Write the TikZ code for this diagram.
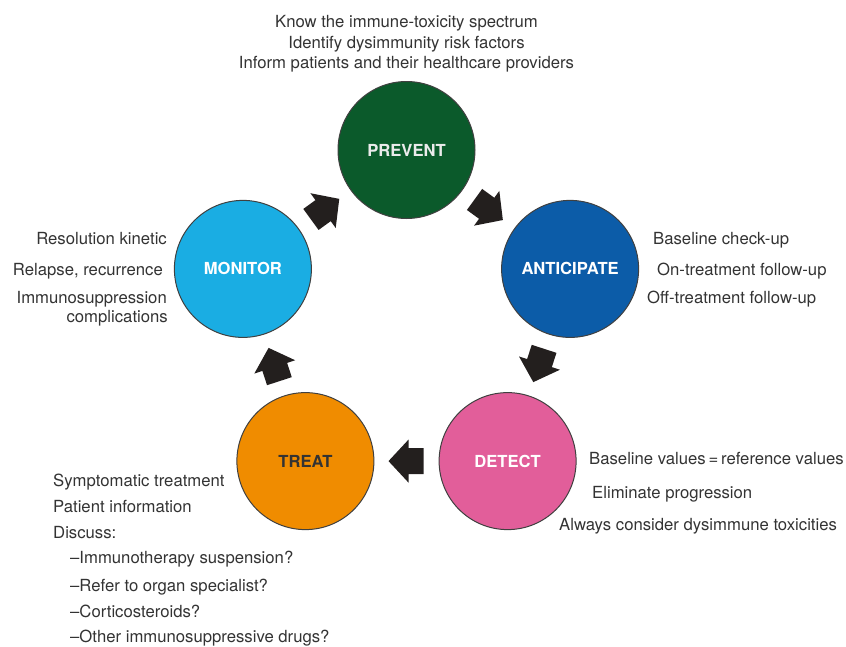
\documentclass[tikz,border=0pt]{standalone}
\usepackage{fontspec}
\setmainfont{TeX Gyre Heros}
\usetikzlibrary{calc}
\definecolor{txt}{HTML}{333333}
\definecolor{cgreen}{HTML}{0B5A2B}
\definecolor{cblue}{HTML}{0C5CA8}
\definecolor{ccyan}{HTML}{1AADE3}
\definecolor{corange}{HTML}{F08C00}
\definecolor{cpink}{HTML}{E25E9A}
\definecolor{arr}{HTML}{231F1E}
\tikzset{
  phase/.style={circle, minimum size=137pt, inner sep=0pt, draw=black!75, line width=1pt,
    font=\fontsize{16.6}{19}\selectfont\bfseries},
  lbl/.style={inner sep=0pt, text=txt, font=\fontsize{16.7}{19}\selectfont},
  blk/.style={fill=arr, draw=none}
}
\newcommand{\blockarrow}[3]{%
  \begin{scope}[shift={($(#1.center)!0.5!(#2.center)$)}, rotate=#3]
    \fill[blk] (-17,-13) -- (-2,-13) -- (-2,-21.5) -- (18,0) -- (-2,21.5) -- (-2,13) -- (-17,13) -- cycle;
  \end{scope}}
\begin{document}
\begin{tikzpicture}[x=1pt,y=-1pt]
\useasboundingbox (0,0) rectangle (846,646);
% phases
\node[phase, fill=cgreen, text=white!92!black] (prevent) at (406.5,150) {PREVENT};
\node[phase, fill=cblue, text=white] (anticipate) at (570.1,268.9) {ANTICIPATE};
\node[phase, fill=cpink, text=white] (detect) at (507.6,461.1) {DETECT};
\node[phase, fill=corange, text=txt] (treat) at (305.4,461.1) {TREAT};
\node[phase, fill=ccyan, text=white] (monitor) at (242.9,268.9) {MONITOR};
% arrows
\blockarrow{monitor}{prevent}{36}
\blockarrow{prevent}{anticipate}{-36}
\blockarrow{anticipate}{detect}{-108}
\blockarrow{detect}{treat}{180}
\blockarrow{treat}{monitor}{108}
% prevent texts
\node[lbl, anchor=base] (p1) at (406.5,27) {Know the immune-toxicity spectrum};
\node[lbl, anchor=base] (p2) at (406.5,48) {Identify dysimmunity risk factors};
\node[lbl, anchor=base] (p3) at (406.5,68) {Inform patients and their healthcare providers};
% anticipate texts
\node[lbl, anchor=base west] (a1) at (653,244) {Baseline check-up};
\node[lbl, anchor=base west] (a2) at (657,275) {On-treatment follow-up};
\node[lbl, anchor=base west] (a3) at (647,303) {Off-treatment follow-up};
% monitor texts
\node[lbl, anchor=base east] (m1) at (167,244) {Resolution kinetic};
\node[lbl, anchor=base east] (m2) at (163,275) {Relapse, recurrence};
\node[lbl, anchor=base east] (m3) at (167,303) {Immunosuppression};
\node[lbl, anchor=base east] (m4) at (168,322) {complications};
% detect texts
\node[lbl, anchor=base west] (d1) at (589,464) {Baseline values\,=\,reference values};
\node[lbl, anchor=base west] (d2) at (592,498) {Eliminate progression};
\node[lbl, anchor=base west] (d3) at (559,530) {Always consider dysimmune toxicities};
% treat texts
\node[lbl, anchor=base west] (t1) at (53,486) {Symptomatic treatment};
\node[lbl, anchor=base west] (t2) at (53,512) {Patient information};
\node[lbl, anchor=base west] (t3) at (53,538) {Discuss:};
\node[lbl, anchor=base west] (t4) at (70,563) {–Immunotherapy suspension?};
\node[lbl, anchor=base west] (t5) at (70,591) {–Refer to organ specialist?};
\node[lbl, anchor=base west] (t6) at (70,617) {–Corticosteroids?};
\node[lbl, anchor=base west] (t7) at (70,642) {–Other immunosuppressive drugs?};
\end{tikzpicture}
\end{document}
